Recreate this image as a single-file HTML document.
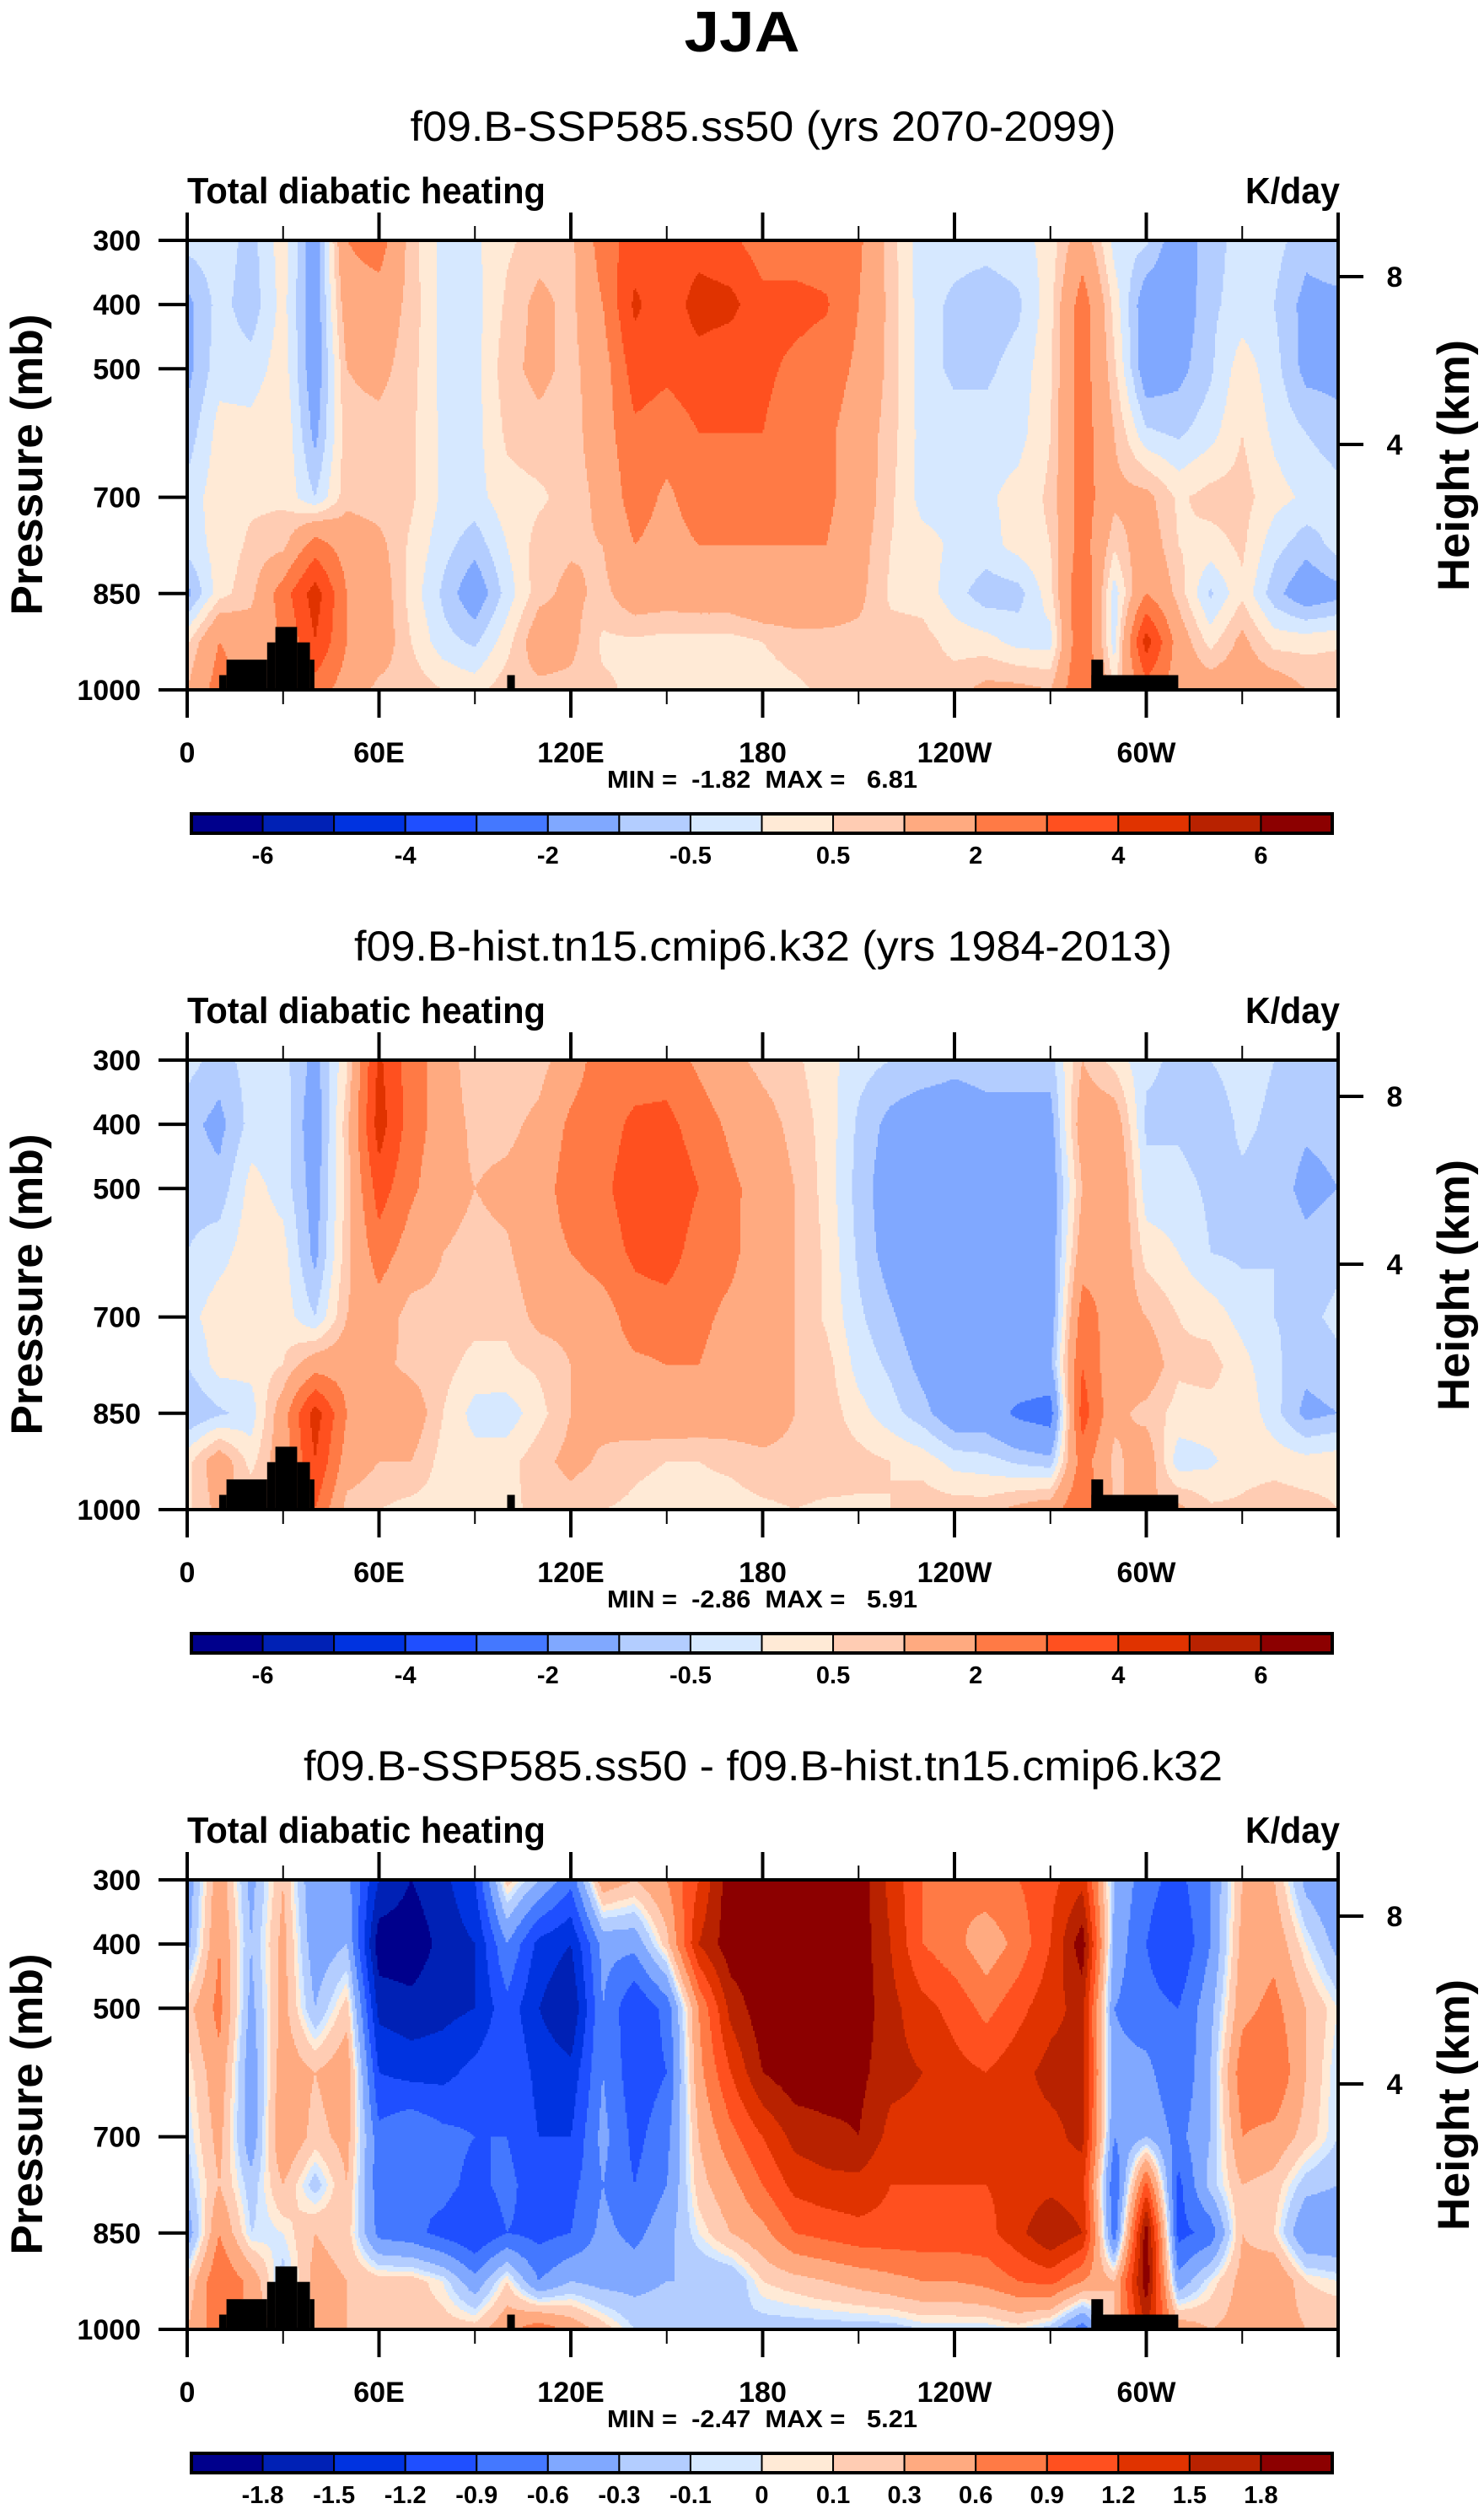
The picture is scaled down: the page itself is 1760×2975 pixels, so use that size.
<!DOCTYPE html>
<html><head><meta charset="utf-8"><title>JJA Total diabatic heating</title>
<style>
html,body{margin:0;padding:0;background:#fff;}
svg{display:block;font-family:"Liberation Sans",Arial,sans-serif;}
.b{font-weight:bold;}
.pre{white-space:pre;}
</style></head>
<body>
<svg id="fig" width="1760" height="2975" viewBox="0 0 1760 2975" xmlns="http://www.w3.org/2000/svg">
<rect x="0" y="0" width="1760" height="2975" fill="#fff"/>
<text class="b" x="880" y="61" font-size="68" text-anchor="middle" textLength="137" lengthAdjust="spacingAndGlyphs">JJA</text>
<g id="root"></g>
</svg>
<script>
// ---------------- data ----------------
const lons = [0,10,20,30,40,50,60,70,80,90,100,110,120,130,140,150,160,170,180,190,200,210,220,230,240,250,260,270,280,290,300,310,320,330,340,350,360];
const pLevels = [300,400,500,600,700,775,850,925,1000];
const lonTicks = [0,60,120,180,240,300];
const lonTickLabels = ["0","60E","120E","180","120W","60W"];
const pTicks = [300,400,500,700,850,1000];
const heightTickLabels = ["8","4"];
const levelsFull = [-6,-5,-4,-3,-2,-1,-0.5,0,0.5,1,2,3,4,5,6];
const labelsFull = ["-6","","-4","","-2","","-0.5","","0.5","","2","","4","","6"];
const levelsDiff = [-1.8,-1.5,-1.2,-0.9,-0.6,-0.3,-0.1,0,0.1,0.3,0.6,0.9,1.2,1.5,1.8];
const labelsDiff = ["-1.8","-1.5","-1.2","-0.9","-0.6","-0.3","-0.1","0","0.1","0.3","0.6","0.9","1.2","1.5","1.8"];
const palette = ["#00008c","#0021b5","#0033e0","#1f4fff","#4478ff","#80a8ff","#b3cdff","#d6e8ff","#ffead6","#ffccb3","#ffaa80","#ff7a45","#ff501f","#e03300","#b82200","#8c0000"];
// each inner array: one longitude column, values at pLevels (300..1000 mb)
const heatFuture = [
[-0.3,-1.2,-1.2,-0.8,-0.3,-0.3,-1.2,0.4,1.0],
[-0.2,-0.3,-0.2,0.2,0.3,0.2,0.3,2.0,2.5],
[-0.7,-0.8,-0.3,0.2,0.4,0.6,0.8,1.5,1.5],
[0.3,0.2,0.3,0.5,0.4,0.8,2.5,2.0,2.0],
[-1.5,-1.5,-1.5,-1.2,-0.5,2.5,4.5,4.0,2.5],
[2.0,1.5,1.0,0.8,0.8,1.5,2.0,2.0,1.5],
[2.5,1.5,1.2,0.8,0.7,1.2,1.5,1.5,0.8],
[0.7,0.8,0.7,0.6,0.6,0.4,0.3,0.5,0.8],
[-0.2,-0.2,-0.2,-0.1,-0.1,-0.3,-0.6,-0.3,0.5],
[-0.1,-0.2,-0.2,-0.2,-0.2,-0.8,-1.5,-0.6,0.3],
[0.4,0.6,0.8,0.6,0.3,0.0,-0.3,0.3,0.8],
[0.7,1.2,1.2,0.8,0.4,0.7,0.8,1.5,0.8],
[0.8,0.8,0.8,0.7,0.7,0.9,1.2,1.2,0.8],
[2.5,2.0,1.5,1.5,1.2,1.0,0.8,0.4,0.6],
[3.5,4.2,3.5,2.8,2.5,2.0,1.5,0.4,0.4],
[3.2,3.3,3.2,2.5,1.8,1.6,1.4,0.3,0.3],
[3.5,4.5,3.5,3.0,2.5,2.0,1.5,0.3,0.3],
[3.2,4.3,3.2,3.0,2.5,2.0,1.5,0.3,0.3],
[2.5,3.3,3.2,3.0,2.5,2.0,1.8,0.5,0.3],
[2.5,3.3,2.8,2.5,2.2,2.0,1.8,0.7,0.4],
[2.5,3.1,2.5,2.2,2.2,2.0,1.5,0.8,0.6],
[2.2,2.0,1.8,1.5,1.5,1.3,1.2,0.8,0.8],
[0.7,0.8,0.8,0.7,0.6,0.5,0.4,0.7,0.8],
[-0.3,-0.3,-0.3,-0.2,-0.2,0.2,0.3,0.7,0.7],
[-0.3,-0.6,-0.6,-0.3,-0.2,-0.1,-0.3,0.3,0.8],
[-0.3,-0.8,-0.6,-0.3,-0.1,-0.2,-0.8,0.2,1.2],
[-0.2,-0.6,-0.3,-0.2,0.2,0.2,-0.7,-0.2,1.2],
[0.2,0.3,0.4,0.5,0.6,0.5,0.3,-0.2,1.0],
[1.5,2.5,2.5,2.5,2.5,2.5,3.0,3.0,3.0],
[-0.2,0.3,0.6,1.0,1.2,0.6,-0.3,-0.3,0.5],
[-0.4,-1.5,-1.5,-0.4,1.2,1.5,2.0,4.5,2.5],
[-1.5,-1.5,-1.2,-0.6,0.4,0.5,0.8,1.5,1.5],
[-0.7,-0.6,-0.6,-0.2,0.7,0.3,-0.6,0.3,1.5],
[-0.3,-0.3,0.3,0.5,0.7,0.6,0.4,1.2,1.5],
[-0.3,-0.5,-0.3,-0.1,0.2,-0.3,-0.8,0.3,1.5],
[-0.8,-1.2,-1.2,-0.5,-0.1,-0.8,-1.5,0.3,1.0],
[-0.5,-1.2,-1.2,-0.8,-0.3,-0.3,-1.2,0.4,1.0]
];
const heatHist = [
[-0.3,-0.8,-0.7,-0.5,-0.2,-0.5,-1.0,0.3,0.4],
[-0.7,-1.2,-0.8,-0.2,0.3,0.2,-0.6,1.5,1.2],
[-0.3,-0.3,0.2,0.3,0.3,0.2,-0.3,0.3,1.0],
[-0.3,-0.2,-0.2,0.2,0.3,0.5,1.5,1.5,1.5],
[-1.2,-1.5,-1.3,-1.2,-0.5,1.5,4.5,4.0,3.0],
[0.4,0.8,0.7,0.8,1.0,1.5,2.0,1.5,0.7],
[4.2,4.5,3.5,2.5,1.5,1.2,2.0,1.0,0.5],
[2.5,2.5,2.2,1.5,0.7,0.8,1.5,1.0,0.3],
[1.5,1.5,1.3,1.0,0.8,0.7,0.5,0.3,0.3],
[0.5,0.8,1.0,0.8,0.7,0.3,-0.2,0.2,0.4],
[0.5,0.8,1.2,0.9,0.6,0.4,-0.3,0.3,0.4],
[0.7,1.2,1.5,1.5,1.2,0.6,0.3,0.8,0.6],
[1.5,2.2,2.5,2.0,1.2,1.0,1.0,1.2,0.7],
[2.5,2.6,2.8,2.5,1.5,1.5,1.2,0.9,0.5],
[2.5,3.2,3.5,3.2,2.5,1.8,1.5,0.6,0.4],
[2.5,3.3,3.8,3.5,2.5,2.0,1.6,0.5,0.3],
[1.8,2.5,3.0,2.5,2.2,2.0,1.5,0.5,0.3],
[1.2,1.8,2.2,2.2,1.8,1.6,1.5,0.6,0.3],
[0.8,1.3,1.6,1.5,1.5,1.5,1.5,0.8,0.4],
[0.6,0.8,1.0,1.0,1.0,1.0,1.0,0.8,0.5],
[0.2,0.3,0.3,0.4,0.4,0.7,0.8,0.8,0.4],
[-0.3,-0.6,-0.7,-0.6,-0.4,-0.2,0.2,0.7,0.4],
[-0.5,-1.2,-1.4,-1.3,-0.9,-0.6,-0.3,0.5,0.5],
[-0.6,-1.5,-1.6,-1.6,-1.5,-1.2,-0.8,0.3,0.8],
[-0.8,-1.5,-1.6,-1.6,-1.6,-1.6,-1.5,-0.2,0.8],
[-0.7,-1.3,-1.5,-1.5,-1.5,-1.5,-1.5,-0.3,0.8],
[-0.8,-1.2,-1.5,-1.5,-1.5,-1.2,-2.2,-0.6,1.2],
[-0.7,-1.3,-1.5,-1.5,-1.5,-1.2,-2.5,-0.8,1.5],
[1.0,1.5,1.0,1.5,2.5,3.0,3.5,2.5,3.0],
[0.3,1.5,2.0,1.8,1.5,1.2,1.2,0.8,1.0],
[-0.4,-0.6,-0.3,0.3,1.0,1.5,0.8,1.5,1.0],
[-0.6,-0.6,-0.3,0.0,0.5,0.6,0.3,-0.3,1.2],
[-0.5,-0.8,-0.6,-0.5,0.3,0.7,0.3,-0.1,0.6],
[-0.3,-0.4,-0.6,-0.6,-0.2,0.2,0.4,0.3,0.6],
[-0.5,-0.6,-0.7,-0.5,-0.5,-0.4,-0.3,0.3,0.8],
[-0.6,-0.9,-1.2,-0.8,-0.6,-0.8,-1.2,0.2,0.7],
[-0.6,-0.8,-1.0,-0.6,-0.4,-0.6,-1.0,0.3,0.5]
];
const heatDiff = [
[-0.5,-0.4,0.2,0.0,-0.1,-0.2,-0.5,0.1,0.3],
[0.5,0.6,0.7,0.5,0.4,0.3,0.6,0.9,0.8],
[-0.4,-0.3,-0.4,-0.5,-0.5,-0.2,-0.1,0.5,0.5],
[0.3,0.4,0.4,0.5,0.6,0.3,0.0,-0.2,0.2],
[-0.6,-0.5,-0.3,0.3,0.2,-0.2,0.3,0.4,0.3],
[-0.5,-0.3,0.2,0.5,0.4,0.3,0.2,0.3,0.3],
[-1.5,-2.0,-1.6,-1.2,-0.8,-0.8,-0.7,0.2,0.3],
[-1.8,-2.0,-1.7,-1.3,-0.6,-0.9,-0.8,0.2,0.2],
[-1.6,-1.7,-1.6,-1.3,-0.8,-0.8,-1.0,0.0,0.2],
[-1.2,-1.5,-1.5,-1.1,-0.9,-1.0,-1.2,-0.5,0.2],
[0.2,-0.6,-1.0,-0.9,-0.9,-0.8,-0.9,0.1,0.5],
[-0.3,-1.3,-1.5,-1.3,-1.2,-1.1,-1.0,-0.6,0.8],
[-0.8,-1.5,-1.8,-1.4,-1.2,-1.0,-0.9,-0.3,0.5],
[0.5,-0.5,-0.6,-0.6,-0.5,-0.6,-0.5,-0.4,0.2],
[0.3,-0.5,-1.2,-1.1,-1.0,-0.9,-0.7,-0.4,-0.1],
[0.6,0.2,-0.8,-0.9,-0.7,-0.6,-0.4,-0.3,-0.1],
[1.2,1.5,0.6,0.5,0.3,0.2,0.0,-0.3,-0.1],
[2.0,2.0,1.6,1.2,0.8,0.5,0.3,-0.3,-0.1],
[2.0,2.0,2.0,1.8,1.2,0.9,0.5,0.1,-0.2],
[2.0,2.0,2.0,2.0,1.6,1.3,0.9,0.2,-0.2],
[2.0,2.0,2.0,2.0,1.7,1.4,1.0,0.3,-0.2],
[2.0,2.0,2.0,1.9,1.8,1.4,1.1,0.4,-0.2],
[1.4,1.5,1.6,1.6,1.4,1.2,1.1,0.5,-0.2],
[0.9,0.9,1.3,1.5,1.4,1.2,1.1,0.6,-0.1],
[0.6,0.7,1.1,1.3,1.3,1.2,1.1,0.6,-0.1],
[0.8,0.4,0.8,1.2,1.3,1.2,1.1,0.7,-0.1],
[0.9,0.7,1.1,1.4,1.4,1.3,1.4,0.9,0.0],
[1.1,1.2,1.4,1.6,1.4,1.4,1.8,1.0,-0.2],
[1.4,2.0,1.6,1.6,1.6,1.3,1.5,0.6,-0.8],
[-0.3,-0.4,-0.6,-0.5,-0.6,-0.9,-0.8,0.3,0.3],
[-0.8,-0.9,-0.8,-0.5,-0.3,1.0,2.0,2.0,1.5],
[-1.0,-1.2,-0.9,-0.9,-0.7,-1.0,-1.0,-0.5,0.5],
[-0.6,-0.6,-0.4,-0.3,-0.3,-0.2,-0.8,0.0,0.3],
[0.3,0.4,0.5,0.8,0.6,0.3,0.3,0.4,0.4],
[0.3,0.5,0.7,0.9,0.5,0.2,0.1,0.6,0.5],
[-0.4,0.0,0.3,0.3,0.2,-0.2,-0.6,0.1,0.3],
[-0.6,-0.4,0.0,-0.1,-0.1,-0.3,-0.6,0.0,0.3]
];
// topography blocks: [lonStart, lonEnd, topPressure]
const topoBlocks = [[10,12.3,977],[12.3,25,953],[25,27.6,926],[27.6,34.4,902],[34.4,38.4,926],[38.4,39.8,953],[100.1,102.5,977],[282.8,286.5,953],[282.8,310,977]];
const panelTitles = ["f09.B-SSP585.ss50 (yrs 2070-2099)","f09.B-hist.tn15.cmip6.k32 (yrs 1984-2013)","f09.B-SSP585.ss50 - f09.B-hist.tn15.cmip6.k32"];
const minVals = ["-1.82","-2.86","-2.47"];
const maxVals = ["6.81","5.91","5.21"];

// ---------------- drawing ----------------
const NS = "http://www.w3.org/2000/svg";
const root = document.getElementById('root');
const PX0 = 222, PX1 = 1587, PY0 = 285, PY1 = 818;
function xOf(lon){ return PX0 + lon/360*(PX1-PX0); }
function yOf(p, off){ return off + PY0 + (p-300)/700*(PY1-PY0); }
function mk(tag, attrs, parent){ const e=document.createElementNS(NS,tag); for(const k in attrs) e.setAttribute(k,attrs[k]); (parent||root).appendChild(e); return e; }
function txt(s, attrs, parent){ const e=mk('text',attrs,parent); e.textContent=s; return e; }
function sample(grid, lon, p){
  let i = Math.min(Math.floor(lon/10), lons.length-2);
  const fx = (lon - lons[i])/10;
  let j = 0; while(j < pLevels.length-2 && p > pLevels[j+1]) j++;
  const fy = (p - pLevels[j])/(pLevels[j+1]-pLevels[j]);
  const a = grid[i][j], b = grid[i+1][j], c = grid[i][j+1], d = grid[i+1][j+1];
  return (a*(1-fx)+b*fx)*(1-fy) + (c*(1-fx)+d*fx)*fy;
}
function cls(v, lev){ let k=0; while(k<lev.length && v>=lev[k]) k++; return k; }

function drawPanel(n, grid, lev, labels){
  const off = n*972;
  const g = mk('g',{});
  
  
  const t = txt(panelTitles[n], {x:905, y:167+off, 'font-size':50, 'text-anchor':'middle', textLength:[837,970,1090][n], lengthAdjust:'spacingAndGlyphs'}, g);
  
  
  const lt = txt("Total diabatic heating", {x:222, y:241+off, 'font-size':44, class:'b', textLength:425, lengthAdjust:'spacingAndGlyphs'}, g);
  
  
  const rt = txt("K/day", {x:1589, y:241+off, 'font-size':44, class:'b', 'text-anchor':'end', textLength:112, lengthAdjust:'spacingAndGlyphs'}, g);
  
  
  const field = mk('g',{'shape-rendering':'crispEdges'}, g);
  
  
  const dl = 0.5, dp = 2.5;
  for(let p=300; p<1000; p+=dp){
    const pc = p + dp/2;
    let runStart = 0, runC = -1;
    for(let l=0; l<=360; l+=dl){
      let c = -1;
      if(l<360){ c = cls(sample(grid, Math.min(l+dl/2,360), pc), lev); }
      if(c !== runC || l>=360){
        if(runC >= 0){
          const x0 = xOf(runStart), x1 = xOf(l);
          const r = mk('rect',{x:x0.toFixed(1), y:yOf(p,off).toFixed(1), width:(x1-x0+0.6).toFixed(1), height:(yOf(p+dp,off)-yOf(p,off)+0.6).toFixed(1), fill:palette[runC]}, field);
          
          
        }
        runStart = l; runC = c;
      }
    }
  }
  topoBlocks.forEach(b=>{
    const r = mk('rect',{x:xOf(b[0]).toFixed(1), y:yOf(b[2],off).toFixed(1), width:(xOf(b[1])-xOf(b[0])).toFixed(1), height:(yOf(1000,off)-yOf(b[2],off)).toFixed(1), fill:'#000'}, g);
    
    
  });
  const fr = mk('rect',{x:PX0, y:yOf(300,off), width:PX1-PX0, height:PY1-PY0, fill:'none', stroke:'#000', 'stroke-width':4}, g);
  
  
  for(let l=0; l<=360; l+=30){
    const major = (l%60===0);
    const len = major?33:17;
    mk('line',{x1:xOf(l),x2:xOf(l),y1:yOf(300,off),y2:yOf(300,off)-len,stroke:'#000','stroke-width':major?4:2}, g);
    mk('line',{x1:xOf(l),x2:xOf(l),y1:yOf(1000,off),y2:yOf(1000,off)+len,stroke:'#000','stroke-width':major?4:2}, g);
  }
  lonTicks.forEach((l,i)=>{
    const e = txt(lonTickLabels[i], {x:xOf(l), y:904+off, 'font-size':34, class:'b', 'text-anchor':'middle'}, g);
    
    
  });
  pTicks.forEach(p=>{
    mk('line',{x1:PX0-34,x2:PX0,y1:yOf(p,off),y2:yOf(p,off),stroke:'#000','stroke-width':4}, g);
    const e = txt(String(p), {x:167, y:yOf(p,off)+12, 'font-size':34, class:'b', 'text-anchor':'end'}, g);
    
    
  });
  const yt = txt("Pressure (mb)", {x:0,y:0,'font-size':53,class:'b','text-anchor':'middle',textLength:357,lengthAdjust:'spacingAndGlyphs',transform:`translate(50,${551+off}) rotate(-90)`}, g);
  
  
  [328,527].forEach((yy,i)=>{
    mk('line',{x1:PX1,x2:PX1+30,y1:yy+off,y2:yy+off,stroke:'#000','stroke-width':4}, g);
    const e = txt(heightTickLabels[i], {x:1654, y:yy+off+12, 'font-size':34, class:'b', 'text-anchor':'middle'}, g);
    
    
  });
  const ht = txt("Height (km)", {x:0,y:0,'font-size':53,class:'b','text-anchor':'middle',textLength:298,lengthAdjust:'spacingAndGlyphs',transform:`translate(1742,${552+off}) rotate(-90)`}, g);
  
  
  const mm = txt(`MIN =  ${minVals[n]}  MAX =   ${maxVals[n]}`, {x:904, y:934+off, 'font-size':29, class:'b pre', 'text-anchor':'middle', textLength:368, lengthAdjust:'spacingAndGlyphs'}, g);
  
  
  const cb = mk('g',{}, g);
  
  
  const cx0 = 227, cx1 = 1580, cy0 = 965+off, cy1 = 988+off, bw = (cx1-cx0)/16;
  for(let k=0;k<16;k++){
    const r = mk('rect',{x:cx0+k*bw, y:cy0, width:bw, height:cy1-cy0, fill:palette[k], stroke:'#000','stroke-width':2}, cb);
    
    
  }
  mk('rect',{x:cx0,y:cy0,width:cx1-cx0,height:cy1-cy0,fill:'none',stroke:'#000','stroke-width':4}, cb);
  labels.forEach((s,k)=>{
    if(!s) return;
    const e = txt(s, {x:cx0+(k+1)*bw, y:1024+off, 'font-size':29, class:'b', 'text-anchor':'middle'}, cb);
    
    
  });
}
drawPanel(0, heatFuture, levelsFull, labelsFull);
drawPanel(1, heatHist, levelsFull, labelsFull);
drawPanel(2, heatDiff, levelsDiff, labelsDiff);
</script>
</body></html>
